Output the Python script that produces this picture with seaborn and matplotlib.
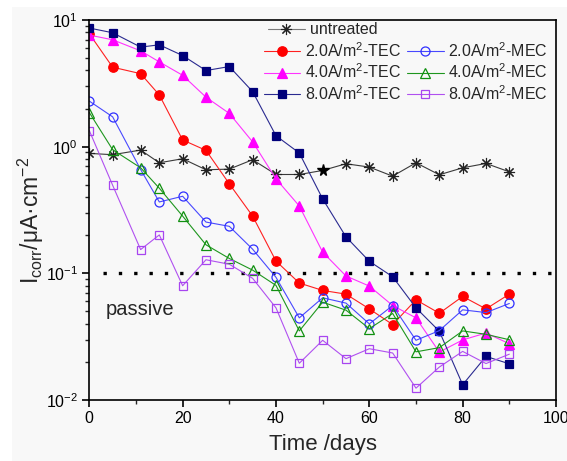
import numpy as np
import pandas as pd
import matplotlib
matplotlib.use("Agg")
import matplotlib.pyplot as plt
from matplotlib.patches import Rectangle
from matplotlib.lines import Line2D
from matplotlib.ticker import LogLocator, NullFormatter, MultipleLocator, FuncFormatter
import seaborn as sns

days = [0, 5, 11, 15, 20, 25, 30, 35, 40, 45, 50, 55, 60, 65, 70, 75, 80, 85, 90]

untreated = [0.885, 0.864, 0.94, 0.746, 0.803, 0.657, 0.665, 0.789, 0.603, 0.603,
             0.649, 0.733, 0.69, 0.585, 0.746, 0.60, 0.681, 0.737, 0.633]
tec_2 = [7.79, 4.24, 3.77, 2.56, 1.13, 0.935, 0.509, 0.283, 0.125, 0.0838,
         0.0733, 0.0685, 0.0524, 0.0394, 0.0618, 0.0484, 0.0657, 0.0524, 0.0685]
mec_2 = [2.29, 1.72, 0.66, 0.366, 0.406, 0.254, 0.235, 0.155, 0.093, 0.0445,
         0.0641, 0.0582, 0.0399, 0.0557, 0.0296, 0.0353, 0.0515, 0.049, 0.0578]
tec_4 = [7.6, 6.98, 5.71, 4.67, 3.66, 2.46, 1.83, 1.09, 0.557, 0.340,
         0.147, 0.0953, 0.0793, 0.0557, 0.0445, 0.0239, 0.0298, 0.0338, 0.0278]
mec_4 = [1.86, 0.947, 0.681, 0.47, 0.283, 0.168, 0.131, 0.106, 0.0803, 0.0351,
         0.0592, 0.0512, 0.0366, 0.0482, 0.024, 0.0259, 0.0351, 0.033, 0.0299]
tec_8 = [8.64, 7.93, 6.11, 6.37, 5.24, 3.99, 4.29, 2.72, 1.22, 0.891,
         0.387, 0.194, 0.1245, 0.094, 0.0534, 0.0349, 0.0132, 0.0221, 0.0193]
mec_8 = [1.34, 0.496, 0.154, 0.201, 0.0798, 0.128, 0.118, 0.0913, 0.0534, 0.0195,
         0.0296, 0.0212, 0.0254, 0.0235, 0.0124, 0.0182, 0.0242, 0.0194, 0.023]
star_index = 10
passive_level = 0.1

labels = ["untreated",
          r"2.0A/m$^2$-TEC", r"4.0A/m$^2$-TEC", r"8.0A/m$^2$-TEC",
          r"2.0A/m$^2$-MEC", r"4.0A/m$^2$-MEC", r"8.0A/m$^2$-MEC"]

sns.set_style("ticks")
plt.rcParams["font.family"] = ["Liberation Sans", "DejaVu Sans"]
plt.rcParams["mathtext.fontset"] = "custom"
plt.rcParams["mathtext.rm"] = "Liberation Sans"
plt.rcParams["mathtext.it"] = "Liberation Sans"
plt.rcParams["mathtext.default"] = "regular"

BG = "#F8F8F8"
fig = plt.figure(figsize=(5.67, 4.61), dpi=100, facecolor="white")
fig.patches.append(Rectangle((12 / 567, 0), 1 - 12 / 567, 1 - 7 / 461,
                             transform=fig.transFigure, facecolor=BG,
                             edgecolor="none", zorder=-10))
ax = fig.add_axes([89.3 / 567, 1 - 400 / 461, (556 - 89.3) / 567, 380 / 461])
ax.set_facecolor(BG)

no_star = [i for i in range(len(days)) if i != star_index]
styles = [
    (untreated, labels[0], dict(color="#3a3a3a", marker=(8, 2, 0), markersize=8,
                                markeredgecolor="#222222", markerfacecolor="#222222",
                                markeredgewidth=0.8)),
    (tec_2, labels[1], dict(color="#FF2020", marker="o", markersize=6.8,
                            markeredgecolor="#FF0000", markerfacecolor="#FF0000")),
    (tec_4, labels[2], dict(color="#FF33FF", marker="^", markersize=7.2,
                            markeredgecolor="#FF00FF", markerfacecolor="#FF00FF")),
    (tec_8, labels[3], dict(color="#2a2a90", marker="s", markersize=5.8,
                            markeredgecolor="#00007A", markerfacecolor="#00007A")),
    (mec_2, labels[4], dict(color="#4848FF", marker="o", markersize=6.5,
                            markeredgecolor="#3030FF", markerfacecolor="none")),
    (mec_4, labels[5], dict(color="#1E961E", marker="^", markersize=7,
                            markeredgecolor="#109010", markerfacecolor="none")),
    (mec_8, labels[6], dict(color="#B050F0", marker="s", markersize=6,
                            markeredgecolor="#A845F0", markerfacecolor="none")),
]

handles = {}
for vals, lab, kw in styles:
    df = pd.DataFrame({"day": days, "icorr": vals})
    kw = dict(kw)
    kw.setdefault("markeredgewidth", 0.9)
    extra = {"markevery": no_star} if lab == "untreated" else {}
    sns.lineplot(data=df, x="day", y="icorr", ax=ax, linewidth=0.8,
                 estimator=None, sort=False, legend=False, **kw, **extra)
    handles[lab] = Line2D([], [], linewidth=0.8, **kw)
handles["untreated"].set_color("#7a7a7a")

ax.plot(days[star_index], untreated[star_index], marker="*", color="black",
        markersize=8.5, linestyle="none", zorder=5)

ax.hlines(passive_level, 3, 99, colors="black", linewidth=2.4,
          linestyles=[(0, (1, 3.6))], zorder=1)
ax.text(3.6, 0.0514, "passive", fontsize=14.5, va="center", ha="left")

ax.set_yscale("log")
ax.set_ylim(0.01, 10)
ax.set_xlim(0, 100)
ax.xaxis.set_major_locator(MultipleLocator(20))
ax.xaxis.set_minor_locator(MultipleLocator(10))
ax.yaxis.set_major_locator(LogLocator(base=10))
ax.yaxis.set_minor_locator(LogLocator(base=10, subs=np.arange(2, 10)))
ax.yaxis.set_minor_formatter(NullFormatter())
ax.yaxis.set_major_formatter(FuncFormatter(
    lambda v, p: r"$10^{%d}$" % int(round(np.log10(v)))))

for s in ax.spines.values():
    s.set_linewidth(1.2)
    s.set_color("black")
ax.tick_params(which="major", direction="out", length=5, width=1.2,
               labelsize=11.5, colors="black", pad=3)
ax.tick_params(which="minor", direction="out", length=3, width=1.0)
ax.tick_params(top=False, right=False, which="both")

ax.set_xlabel("Time /days", fontsize=16, labelpad=6)
ax.set_ylabel(r"I$_{corr}$/μA·cm$^{-2}$", fontsize=16.5, labelpad=0)
ax.yaxis.label.set_y(0.474)

leg_kw = dict(frameon=False, fontsize=11.5, handlelength=2.3, handletextpad=0.3,
              borderpad=0, borderaxespad=0)
leg1 = ax.legend([handles["untreated"]], ["untreated"], loc="center left",
                 bbox_to_anchor=((268 - 89.3) / 466.7, (400 - 30) / 380), **leg_kw)
ax.add_artist(leg1)
order = labels[1:]
ax.legend([handles[l] for l in order], order, ncol=2, loc="upper right",
          bbox_to_anchor=((548 - 89.3) / 466.7, (400 - 41) / 380),
          columnspacing=0.35, labelspacing=0.18, **leg_kw)

fig.savefig("out.png", dpi=100, facecolor=fig.get_facecolor())
